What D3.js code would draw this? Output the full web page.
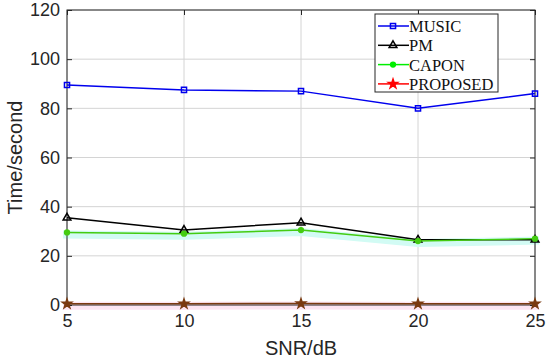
<!DOCTYPE html>
<html>
<head>
<meta charset="utf-8">
<script src="https://cdn.jsdelivr.net/npm/d3@7/dist/d3.min.js"></script>
<style>
  body { margin: 0; background: #fff; }
  svg { display: block; }
  .tick text { font-family: "Liberation Sans", Arial, sans-serif; font-size: 18px; fill: #262626; }
</style>
</head>
<body>
<svg width="550" height="364"></svg>
<script>
let snr = [5, 10, 15, 20, 25];
let yTicks = [0, 20, 40, 60, 80, 100, 120];
let music = [89.5, 87.5, 87, 80, 86];
let pm = [35.5, 30.5, 33.5, 26.5, 26.5];
let capon = [29.5, 29, 30.5, 26, 27];
let proposed = [0.5, 0.5, 0.6, 0.5, 0.5];

let series = [
  { name: 'MUSIC', values: music, color: '#0000ee', marker: 'square' },
  { name: 'PM', values: pm, color: '#000000', marker: 'triangle' },
  { name: 'CAPON', values: capon, color: '#44cc11', legendColor: '#00ee00', marker: 'circle', glow: '#d2fbf4' },
  { name: 'PROPOSED', values: proposed, color: '#7a3a10', legendColor: '#ff0000', marker: 'star', glow: '#fde4f2' }
];

let margin = { left: 67, right: 15, top: 10, bottom: 59 };
let W = 550, H = 364;
let svg = d3.select('svg');

let x = d3.scaleLinear().domain([5, 25]).range([margin.left, W - margin.right]);
let y = d3.scaleLinear().domain([0, 120]).range([H - margin.bottom, margin.top]);

// grid
let grid = svg.append('g');
grid.selectAll('line.gx').data(snr).enter().append('line')
  .attr('x1', d => x(d)).attr('x2', d => x(d))
  .attr('y1', y(0)).attr('y2', y(120))
  .attr('stroke', '#d4d4d4').attr('stroke-width', 1);
grid.selectAll('line.gy').data(yTicks).enter().append('line')
  .attr('y1', d => y(d)).attr('y2', d => y(d))
  .attr('x1', x(5)).attr('x2', x(25))
  .attr('stroke', '#d4d4d4').attr('stroke-width', 1);

// glow bands, slightly below each line
let line = d3.line().x((d, i) => x(snr[i])).y(d => y(d));
series.filter(s => s.glow).forEach(s => {
  svg.append('path').datum(s.values)
    .attr('d', line)
    .attr('transform', 'translate(0,2)')
    .attr('fill', 'none')
    .attr('stroke', s.glow)
    .attr('stroke-width', 8)
    .attr('stroke-linecap', 'square');
});

// axes
let xAxis = d3.axisBottom(x).tickValues(snr).tickSize(-5).tickPadding(9);
let yAxis = d3.axisLeft(y).tickValues(yTicks).tickSize(-5).tickPadding(7);
let gx = svg.append('g').attr('transform', 'translate(0,' + y(0) + ')').call(xAxis);
let gy = svg.append('g').attr('transform', 'translate(' + x(5) + ',0)').call(yAxis);
[gx, gy].forEach(g => {
  g.select('.domain').remove();
  g.selectAll('.tick line').attr('stroke', '#262626');
});
svg.append('g').attr('transform', 'translate(0,' + y(120) + ')')
  .call(d3.axisTop(x).tickValues(snr).tickSize(-5).tickFormat(''))
  .call(g => g.select('.domain').remove())
  .selectAll('.tick line').attr('stroke', '#262626');
svg.append('g').attr('transform', 'translate(' + x(25) + ',0)')
  .call(d3.axisRight(y).tickValues(yTicks).tickSize(-5).tickFormat(''))
  .call(g => g.select('.domain').remove())
  .selectAll('.tick line').attr('stroke', '#262626');
svg.append('rect')
  .attr('x', x(5)).attr('y', y(120))
  .attr('width', x(25) - x(5)).attr('height', y(0) - y(120))
  .attr('fill', 'none').attr('stroke', '#262626').attr('stroke-width', 1);

// markers
let sym = {
  square: d3.symbol(d3.symbolSquare, 26),
  triangle: d3.symbol(d3.symbolTriangle, 26),
  circle: d3.symbol(d3.symbolCircle, 18),
  star: d3.symbol(d3.symbolStar, 26)
};
let filled = m => m === 'circle' || m === 'star';

series.forEach(s => {
  svg.append('path').datum(s.values)
    .attr('d', line)
    .attr('fill', 'none')
    .attr('stroke', s.color)
    .attr('stroke-width', 1.5);
  svg.selectAll(null).data(s.values).enter().append('path')
    .attr('d', sym[s.marker])
    .attr('transform', (d, i) => 'translate(' + x(snr[i]) + ',' + y(d) + ')')
    .attr('fill', filled(s.marker) ? s.color : 'none')
    .attr('stroke', s.color)
    .attr('stroke-width', 1.5);
});

// axis labels
svg.append('text')
  .attr('x', (x(5) + x(25)) / 2).attr('y', 355)
  .attr('text-anchor', 'middle')
  .attr('font-family', '"Liberation Sans", Arial, sans-serif')
  .attr('font-size', 20).attr('fill', '#262626')
  .text('SNR/dB');
svg.append('text')
  .attr('transform', 'translate(22,' + ((y(0) + y(120)) / 2) + ') rotate(-90)')
  .attr('text-anchor', 'middle')
  .attr('font-family', '"Liberation Sans", Arial, sans-serif')
  .attr('font-size', 20).attr('fill', '#262626')
  .text('Time/second');

// legend
let lg = svg.append('g').attr('transform', 'translate(375,14)');
lg.append('rect')
  .attr('width', 123).attr('height', 78)
  .attr('fill', '#fff').attr('stroke', '#262626').attr('stroke-width', 1);
series.forEach((s, i) => {
  let c = s.legendColor || s.color;
  let row = lg.append('g').attr('transform', 'translate(0,' + (12 + i * 19.3) + ')');
  row.append('line').attr('x1', 3).attr('x2', 34)
    .attr('stroke', c).attr('stroke-width', 1.5);
  row.append('path').attr('d', sym[s.marker])
    .attr('transform', 'translate(18,0)')
    .attr('fill', filled(s.marker) ? c : 'none')
    .attr('stroke', c).attr('stroke-width', 1.5);
  row.append('text').attr('x', 34).attr('y', 6)
    .attr('font-family', '"Liberation Serif", "Times New Roman", serif')
    .attr('font-size', 16.5).attr('fill', '#111')
    .text(s.name);
});
</script>
</body>
</html>
